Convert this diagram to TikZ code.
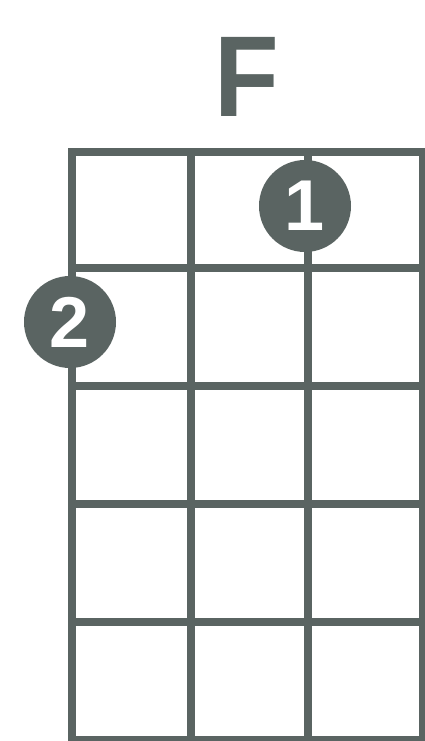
\documentclass[tikz,border=0pt]{standalone}
\usepackage{fontspec}
\setmainfont{Liberation Sans}
\definecolor{ink}{HTML}{5A6462}
\tikzset{
  gridline/.style={draw=ink, line width=8.5pt, line cap=rect},
  fingerdot/.style={circle, fill=ink, minimum size=92pt, inner sep=0pt, text=white,
    font=\fontsize{72}{72}\selectfont\bfseries},
}
\begin{document}
\begin{tikzpicture}[x=1pt,y=-1pt]
\useasboundingbox (0,0) rectangle (425,741);
\fill[white] (0,0) rectangle (425,741);
\node[text=ink, font=\fontsize{115}{115}\selectfont\bfseries, inner sep=0pt, anchor=base, xscale=0.92] (title) at (247,117) {F};
% strings
\foreach \x in {72,191,308,423} \draw[gridline] (\x,152) -- (\x,740);
% frets
\foreach \y in {152,268,386,504,622,740} \draw[gridline] (72,\y) -- (423,\y);
\node[fingerdot] (d1) at (305,206) {1};
\node[fingerdot] (d2) at (70,322) {2};
\end{tikzpicture}
\end{document}
